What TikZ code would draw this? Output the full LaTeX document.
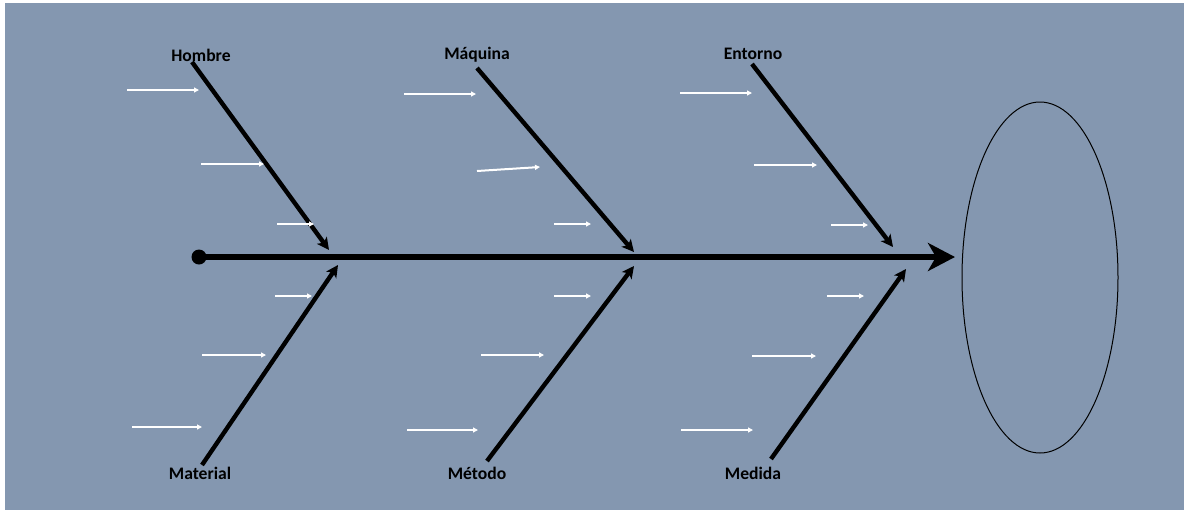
\documentclass[tikz,border=0pt]{standalone}
\usepackage{fontspec}
\newfontfamily\causefont{Carlito}
\usetikzlibrary{arrows.meta,shapes.geometric}
\definecolor{slatebg}{HTML}{8497B0}

\begin{document}
\begin{tikzpicture}[
    x=0.5pt,
    y=-0.5pt,
    cause/.style={
        font=\causefont\bfseries\fontsize{8.8}{10}\selectfont,
        inner sep=0pt
    },
    spine/.style={
        line width=3pt,
        -{Stealth[length=13.5pt,width=14pt,inset=4pt]}
    },
    bone/.style={
        line width=2.2pt,
        -{Stealth[length=6pt,width=6pt,inset=1.5pt]}
    },
    subcause/.style={
        white,
        line width=1pt,
        -{Triangle[length=2.5pt,width=2.5pt]}
    }
]

% Background
\useasboundingbox (0,0) rectangle (1184,510);
\fill[slatebg] (5,3) rectangle (1184,510);

% Effect
\node[draw, ellipse, line width=0.5pt, minimum width=78pt, minimum height=175.5pt] (effect) at (1040,277.5) {};

% Spine
\node[circle, fill, inner sep=0pt, minimum size=7.5pt] (head) at (199,257) {};
\coordinate (tip) at (955,257);
\draw[spine] (head.center) -- (tip);

% Causes above
\node[cause] (hombre) at (201,55) {Hombre};
\node[cause] (maquina) at (477,55) {Máquina};
\node[cause] (entorno) at (753,54) {Entorno};

% Causes below
\node[cause] (material) at (200,473) {Material};
\node[cause] (metodo) at (477,473) {Método};
\node[cause] (medida) at (753,473) {Medida};

% Bones
\coordinate (hombre top) at (192,62);
\coordinate (hombre tip) at (329,250);
\coordinate (maquina top) at (477,68);
\coordinate (maquina tip) at (634,252);
\coordinate (entorno top) at (752,64);
\coordinate (entorno tip) at (893,247);
\coordinate (material bot) at (202,465);
\coordinate (material tip) at (338,265);
\coordinate (metodo bot) at (487,461);
\coordinate (metodo tip) at (634,266);
\coordinate (medida bot) at (771,459);
\coordinate (medida tip) at (906,269);

\draw[bone] (hombre top) -- (hombre tip);
\draw[bone] (maquina top) -- (maquina tip);
\draw[bone] (entorno top) -- (entorno tip);
\draw[bone] (material bot) -- (material tip);
\draw[bone] (metodo bot) -- (metodo tip);
\draw[bone] (medida bot) -- (medida tip);

% Sub-causes
\foreach \ax/\ay/\bx/\by [count=\i] in {
    127/90/199/90, 201/164/264/164, 277/224/314/224,
    275/296/312/296, 202/355/266/355, 132/427/202/427,
    404/94/476/94, 477/171/540/167, 554/224/591/224,
    554/296/591/296, 481/355/544/355, 407/430/478/430,
    680/93/752/93, 754/165/817/165, 831/225/868/225,
    827/296/864/296, 752/356/816/356, 681/430/753/430} {
    \coordinate (sub\i a) at (\ax,\ay);
    \coordinate (sub\i b) at (\bx,\by);
    \draw[subcause] (sub\i a) -- (sub\i b);
}

\end{tikzpicture}
\end{document}
